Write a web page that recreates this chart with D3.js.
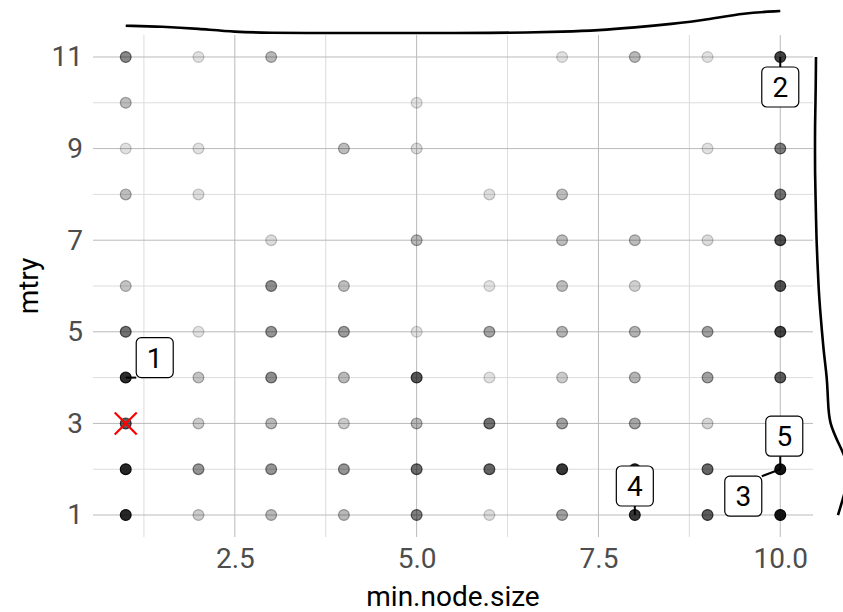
<!DOCTYPE html>
<html>
<head>
<meta charset="utf-8">
<script src="https://cdn.jsdelivr.net/npm/d3@7"></script>
<style>
  body { margin: 0; background: #fff; }
  text { font-family: Roboto, 'Noto Sans', sans-serif; }
</style>
</head>
<body>
<div id="chart"></div>
<script>
// tuning grid: one row per evaluated combination
const nodeSize = [
  1, 2, 3, 7, 8, 9, 10,
  1, 5,
  1, 2, 4, 5, 9, 10,
  1, 2, 6, 7, 10,
  3, 5, 7, 8, 9, 10,
  1, 3, 4, 6, 7, 8, 10,
  1, 2, 3, 4, 5, 6, 7, 8, 9, 10,
  1, 2, 3, 4, 5, 6, 7, 8, 9, 10,
  1, 2, 3, 4, 5, 6, 7, 8, 9,
  1, 2, 3, 4, 5, 6, 7, 8, 9, 10,
  1, 2, 3, 4, 5, 6, 7, 8, 9, 10
]
const mtry = [
  11, 11, 11, 11, 11, 11, 11,
  10, 10,
  9, 9, 9, 9, 9, 9,
  8, 8, 8, 8, 8,
  7, 7, 7, 7, 7, 7,
  6, 6, 6, 6, 6, 6, 6,
  5, 5, 5, 5, 5, 5, 5, 5, 5, 5,
  4, 4, 4, 4, 4, 4, 4, 4, 4, 4,
  3, 3, 3, 3, 3, 3, 3, 3, 3,
  2, 2, 2, 2, 2, 2, 2, 2, 2, 2,
  1, 1, 1, 1, 1, 1, 1, 1, 1, 1
]
// relative score of each combination (drives the opacity)
const score = [
  0.5, 0.13, 0.3, 0.13, 0.3, 0.13, 0.8,
  0.28, 0.13,
  0.13, 0.13, 0.28, 0.15, 0.13, 0.55,
  0.28, 0.15, 0.15, 0.28, 0.6,
  0.15, 0.3, 0.28, 0.28, 0.15, 0.75,
  0.25, 0.48, 0.28, 0.13, 0.28, 0.2, 0.75,
  0.6, 0.13, 0.45, 0.42, 0.13, 0.38, 0.32, 0.32, 0.4, 0.8,
  0.9, 0.25, 0.48, 0.3, 0.72, 0.13, 0.22, 0.32, 0.4, 0.7,
  0.7, 0.22, 0.3, 0.22, 0.3, 0.6, 0.4, 0.38, 0.18,
  0.92, 0.45, 0.45, 0.45, 0.62, 0.66, 0.85, 0.9, 0.65, 1,
  0.92, 0.22, 0.3, 0.3, 0.55, 0.15, 0.4, 0.85, 0.7, 1
]

// top ranked models
const rankLabels = ['1', '2', '3', '4', '5']
const rankNodeSize = [1, 10, 10, 8, 10]
const rankMtry = [4, 11, 2, 1, 2]

// chosen model
const bestNodeSize = 1
const bestMtry = 3

// marginal densities
const densNodeX = [1, 1.5, 2, 2.5, 3, 3.5, 4, 4.5, 5, 5.5, 6, 6.5, 7, 7.5, 8, 8.5, 9, 9.5, 10]
const densNode = [0.093, 0.085, 0.063, 0.03, 0.022, 0.02, 0.02, 0.02, 0.02, 0.02, 0.02, 0.025, 0.033, 0.046, 0.075, 0.11, 0.155, 0.22, 0.24]
const densMtryY = [1, 1.5, 2, 2.5, 3, 3.5, 4, 4.5, 5, 5.5, 6, 6.5, 7, 7.5, 8, 8.5, 9, 9.5, 10, 10.5, 11]
const densMtry = [0.25, 0.32, 0.38, 0.27, 0.16, 0.15, 0.14, 0.11, 0.09, 0.07, 0.055, 0.045, 0.035, 0.03, 0.025, 0.02, 0.02, 0.02, 0.025, 0.028, 0.03]

const xTicks = [2.5, 5, 7.5, 10]
const xMinor = [1.25, 3.75, 6.25, 8.75]
const yTicks = [1, 3, 5, 7, 9, 11]
const yMinor = [2, 4, 6, 8, 10]

const width = 843
const height = 612
const panel = { left: 93, right: 813, top: 35, bottom: 537 }

const svg = d3
  .select('#chart')
  .append('svg')
  .attr('width', width)
  .attr('height', height)

const x = d3.scaleLinear().domain([0.55, 10.45]).range([panel.left, panel.right])
const y = d3.scaleLinear().domain([0.52, 11.48]).range([panel.bottom, panel.top])
const opacity = d3.scaleLinear().domain([0, 1]).range([0, 0.92])

// grid lines
const grid = svg.append('g')
grid
  .selectAll('.vminor')
  .data(xMinor)
  .join('line')
  .attr('x1', (d) => x(d))
  .attr('x2', (d) => x(d))
  .attr('y1', panel.top)
  .attr('y2', panel.bottom)
  .attr('stroke', '#dcdcdc')
grid
  .selectAll('.hminor')
  .data(yMinor)
  .join('line')
  .attr('x1', panel.left)
  .attr('x2', panel.right)
  .attr('y1', (d) => y(d))
  .attr('y2', (d) => y(d))
  .attr('stroke', '#dcdcdc')
grid
  .append('g')
  .selectAll('line')
  .data(xTicks)
  .join('line')
  .attr('x1', (d) => x(d))
  .attr('x2', (d) => x(d))
  .attr('y1', panel.top)
  .attr('y2', panel.bottom)
  .attr('stroke', '#bababa')
grid
  .append('g')
  .selectAll('line')
  .data(yTicks)
  .join('line')
  .attr('x1', panel.left)
  .attr('x2', panel.right)
  .attr('y1', (d) => y(d))
  .attr('y2', (d) => y(d))
  .attr('stroke', '#bababa')

// axes (labels only, like theme_minimal)
const xAxis = svg
  .append('g')
  .attr('transform', `translate(0,${panel.bottom})`)
  .call(d3.axisBottom(x).tickValues(xTicks).tickFormat(d3.format('.1f')).tickSize(0).tickPadding(11))
const yAxis = svg
  .append('g')
  .attr('transform', `translate(${panel.left},0)`)
  .call(d3.axisLeft(y).tickValues(yTicks).tickSize(0).tickPadding(10))
;[xAxis, yAxis].forEach((a) => {
  a.select('.domain').remove()
  a.selectAll('text').attr('fill', '#4d4d4d').style('font-size', '28px').attr('font-family', 'Roboto')
})

svg
  .append('text')
  .attr('x', (panel.left + panel.right) / 2)
  .attr('y', 606)
  .attr('text-anchor', 'middle')
  .style('font-size', '28px')
  .text('min.node.size')
svg
  .append('text')
  .attr('transform', `translate(38,${(panel.top + panel.bottom) / 2}) rotate(-90)`)
  .attr('text-anchor', 'middle')
  .style('font-size', '28px')
  .text('mtry')

// points
const points = nodeSize.map((d, i) => ({ x: d, y: mtry[i], s: score[i] }))
svg
  .append('g')
  .selectAll('circle')
  .data(points)
  .join('circle')
  .attr('cx', (d) => x(d.x))
  .attr('cy', (d) => y(d.y))
  .attr('r', 5.4)
  .attr('fill', '#000')
  .attr('fill-opacity', (d) => opacity(d.s))
  .attr('stroke', '#000')
  .attr('stroke-opacity', (d) => Math.min(1, opacity(d.s) + 0.08))
  .attr('stroke-width', 1.2)

// marginal density on top
const topY = d3.scaleLinear().domain([0, 0.25]).range([35, 10])
svg
  .append('path')
  .datum(densNodeX.map((d, i) => [d, densNode[i]]))
  .attr('fill', 'none')
  .attr('stroke', '#000')
  .attr('stroke-width', 2.6)
  .attr(
    'd',
    d3
      .line()
      .x((d) => x(d[0]))
      .y((d) => topY(d[1]))
      .curve(d3.curveBasis)
  )

// marginal density on the right
const sideX = d3.scaleLinear().domain([0, 0.25]).range([813, 838])
svg
  .append('path')
  .datum(densMtryY.map((d, i) => [d, densMtry[i]]))
  .attr('fill', 'none')
  .attr('stroke', '#000')
  .attr('stroke-width', 2.6)
  .attr(
    'd',
    d3
      .line()
      .x((d) => sideX(d[1]))
      .y((d) => y(d[0]))
      .curve(d3.curveBasis)
  )

// chosen model marker
const cross = 11
const bx = x(bestNodeSize)
const by = y(bestMtry)
svg
  .append('g')
  .selectAll('line')
  .data([
    [-1, -1, 1, 1],
    [-1, 1, 1, -1]
  ])
  .join('line')
  .attr('x1', (d) => bx + d[0] * cross)
  .attr('y1', (d) => by + d[1] * cross)
  .attr('x2', (d) => bx + d[2] * cross)
  .attr('y2', (d) => by + d[3] * cross)
  .attr('stroke', '#ff0000')
  .attr('stroke-width', 2.2)

// repelled labels: box offsets (px) from their point
const nudge = [
  [29, -20],
  [0, 30],
  [-37, 27],
  [0, -29],
  [4, -33]
]
const boxW = 37
const boxH = 40
const labels = rankLabels.map((l, i) => {
  const px = x(rankNodeSize[i])
  const py = y(rankMtry[i])
  const cx = px + nudge[i][0]
  const cy = py + nudge[i][1]
  return { l, px, py, cx, cy }
})

const lab = svg.append('g')
lab
  .selectAll('line')
  .data(labels)
  .join('line')
  .attr('x1', (d) => d.px)
  .attr('y1', (d) => d.py)
  .attr('x2', (d) => Math.max(d.cx - boxW / 2, Math.min(d.px, d.cx + boxW / 2)))
  .attr('y2', (d) => Math.max(d.cy - boxH / 2, Math.min(d.py, d.cy + boxH / 2)))
  .attr('stroke', '#000')
  .attr('stroke-width', 2)
lab
  .selectAll('rect')
  .data(labels)
  .join('rect')
  .attr('x', (d) => d.cx - boxW / 2)
  .attr('y', (d) => d.cy - boxH / 2)
  .attr('width', boxW)
  .attr('height', boxH)
  .attr('rx', 5)
  .attr('fill', '#fff')
  .attr('stroke', '#000')
  .attr('stroke-width', 1.2)
lab
  .selectAll('text')
  .data(labels)
  .join('text')
  .attr('x', (d) => d.cx)
  .attr('y', (d) => d.cy + 10)
  .attr('text-anchor', 'middle')
  .style('font-size', '28px')
  .text((d) => d.l)
</script>
</body>
</html>
